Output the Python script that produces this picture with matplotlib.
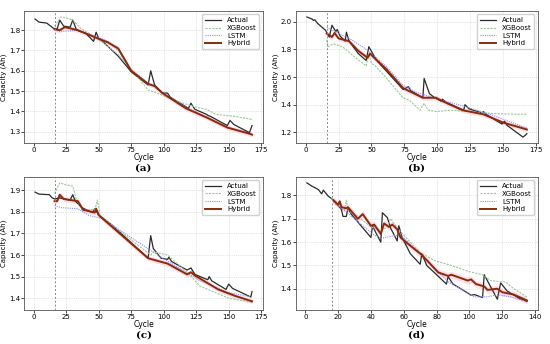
import matplotlib.pyplot as plt

# ---- data (vertex points, cycle / capacity in Ah) ----
# panel (a)
a_act_x = [1, 4, 10, 15, 18, 20, 23, 28, 30, 33, 40, 46, 48, 50, 53, 65, 75, 88, 90, 93, 99, 103, 105, 119, 121, 124, 133, 134, 136, 149, 151, 154, 166, 168]
a_act_y = [1.855, 1.84, 1.835, 1.81, 1.805, 1.85, 1.82, 1.815, 1.85, 1.80, 1.785, 1.745, 1.79, 1.76, 1.745, 1.672, 1.595, 1.53, 1.60, 1.53, 1.49, 1.49, 1.47, 1.415, 1.44, 1.41, 1.385, 1.38, 1.375, 1.33, 1.355, 1.335, 1.295, 1.33]
a_xgb_x = [16, 21, 25, 30, 36, 50, 65, 78, 88, 95, 110, 125, 133, 140, 155, 168]
a_xgb_y = [1.82, 1.865, 1.86, 1.85, 1.81, 1.755, 1.68, 1.585, 1.505, 1.49, 1.45, 1.42, 1.41, 1.385, 1.375, 1.36]
a_lstm_x = [16, 20, 25, 34, 49, 57, 65, 75, 88, 95, 117, 133, 149, 168]
a_lstm_y = [1.80, 1.795, 1.795, 1.80, 1.765, 1.745, 1.70, 1.605, 1.54, 1.51, 1.42, 1.37, 1.32, 1.285]
a_hyb_x = [16, 20, 24, 34, 49, 57, 65, 75, 88, 93, 99, 117, 133, 149, 166, 168]
a_hyb_y = [1.805, 1.80, 1.815, 1.80, 1.76, 1.74, 1.71, 1.60, 1.535, 1.525, 1.49, 1.415, 1.37, 1.32, 1.29, 1.285]
a_band = 0.012

# panel (b)
b_act_x = [1, 5, 6, 7, 9, 15, 18, 20, 23, 24, 26, 30, 31, 33, 40, 46, 48, 51, 54, 74, 78, 80, 89, 90, 94, 98, 103, 104, 106, 120, 121, 124, 134, 135, 137, 149, 151, 153, 165, 167, 168]
b_act_y = [2.035, 2.02, 2.01, 2.015, 1.99, 1.94, 1.89, 1.975, 1.93, 1.945, 1.90, 1.86, 1.925, 1.86, 1.77, 1.72, 1.82, 1.77, 1.72, 1.51, 1.53, 1.50, 1.45, 1.59, 1.48, 1.45, 1.425, 1.44, 1.42, 1.36, 1.40, 1.37, 1.34, 1.35, 1.33, 1.26, 1.28, 1.25, 1.165, 1.18, 1.19]
b_xgb_x = [16, 17, 21, 28, 38, 46, 48, 50, 53, 63, 74, 79, 87, 90, 93, 99, 110, 130, 143, 168]
b_xgb_y = [1.87, 1.82, 1.84, 1.82, 1.74, 1.68, 1.77, 1.70, 1.68, 1.575, 1.45, 1.43, 1.36, 1.41, 1.36, 1.35, 1.36, 1.345, 1.335, 1.33]
b_lstm_x = [16, 25, 35, 46, 61, 74, 84, 100, 120, 140, 168]
b_lstm_y = [1.96, 1.915, 1.87, 1.80, 1.68, 1.54, 1.49, 1.44, 1.39, 1.33, 1.23]
b_hyb_x = [16, 20, 22, 25, 33, 40, 47, 49, 52, 61, 74, 89, 99, 104, 119, 135, 150, 168]
b_hyb_y = [1.915, 1.89, 1.92, 1.88, 1.86, 1.79, 1.74, 1.77, 1.74, 1.66, 1.52, 1.45, 1.45, 1.425, 1.36, 1.33, 1.27, 1.22]
b_band = 0.018

# panel (c)
c_act_x = [1, 4, 12, 14, 16, 20, 28, 30, 32, 37, 45, 47, 50, 60, 88, 90, 92, 98, 103, 104, 106, 118, 121, 124, 134, 135, 137, 148, 150, 153, 167, 168]
c_act_y = [1.892, 1.883, 1.88, 1.866, 1.86, 1.865, 1.855, 1.88, 1.85, 1.82, 1.797, 1.815, 1.785, 1.74, 1.585, 1.69, 1.63, 1.585, 1.58, 1.59, 1.57, 1.53, 1.54, 1.51, 1.485, 1.50, 1.48, 1.44, 1.465, 1.445, 1.405, 1.43]
c_xgb_x = [16, 20, 25, 30, 33, 37, 47, 49, 51, 60, 90, 92, 103, 118, 128, 150, 168]
c_xgb_y = [1.885, 1.935, 1.925, 1.92, 1.855, 1.81, 1.81, 1.855, 1.785, 1.74, 1.60, 1.615, 1.60, 1.52, 1.455, 1.40, 1.38]
c_lstm_x = [16, 21, 34, 42, 52, 60, 98, 128, 150, 168]
c_lstm_y = [1.83, 1.82, 1.815, 1.785, 1.77, 1.74, 1.59, 1.48, 1.425, 1.405]
c_hyb_x = [16, 18, 20, 23, 34, 38, 47, 48, 50, 88, 103, 118, 121, 124, 142, 155, 168]
c_hyb_y = [1.85, 1.85, 1.88, 1.86, 1.85, 1.81, 1.797, 1.815, 1.785, 1.585, 1.56, 1.51, 1.52, 1.505, 1.44, 1.41, 1.385]
c_band = 0.012

# panel (d)
d_act_x = [1, 4, 6, 8, 10, 11, 14, 18, 22, 23, 25, 26, 28, 36, 40, 41, 43, 46, 47, 50, 52, 56, 57, 59, 64, 70, 71, 74, 80, 86, 87, 90, 98, 101, 103, 108, 109, 117, 119, 123, 130, 135]
d_act_y = [1.854, 1.84, 1.833, 1.825, 1.807, 1.823, 1.797, 1.776, 1.74, 1.71, 1.71, 1.745, 1.72, 1.653, 1.62, 1.67, 1.64, 1.60, 1.726, 1.705, 1.66, 1.605, 1.67, 1.62, 1.55, 1.505, 1.55, 1.50, 1.46, 1.42, 1.452, 1.42, 1.386, 1.372, 1.375, 1.362, 1.46, 1.355, 1.425, 1.39, 1.36, 1.345]
d_xgb_x = [16, 20, 24, 25, 26, 30, 40, 46, 50, 52, 56, 60, 70, 79, 89, 99, 108, 113, 119, 122, 127, 135]
d_xgb_y = [1.79, 1.76, 1.74, 1.78, 1.735, 1.72, 1.665, 1.65, 1.665, 1.70, 1.66, 1.63, 1.555, 1.52, 1.50, 1.475, 1.46, 1.435, 1.43, 1.43, 1.40, 1.365]
d_lstm_x = [17, 25, 35, 42, 46, 52, 58, 70, 80, 87, 98, 103, 111, 117, 125, 135]
d_lstm_y = [1.77, 1.73, 1.67, 1.63, 1.615, 1.625, 1.63, 1.55, 1.48, 1.43, 1.386, 1.365, 1.365, 1.375, 1.365, 1.345]
d_hyb_x = [17, 20, 21, 22, 25, 26, 32, 35, 40, 42, 46, 48, 51, 53, 56, 58, 63, 71, 73, 77, 81, 87, 89, 99, 101, 104, 109, 111, 117, 120, 127, 135]
d_hyb_y = [1.78, 1.76, 1.775, 1.75, 1.745, 1.75, 1.70, 1.72, 1.67, 1.675, 1.635, 1.68, 1.665, 1.675, 1.655, 1.62, 1.59, 1.545, 1.53, 1.50, 1.47, 1.455, 1.46, 1.435, 1.44, 1.42, 1.41, 1.395, 1.40, 1.385, 1.375, 1.35]
d_band = 0.015

split_cycle = 16
panel_labels = ['(a)', '(b)', '(c)', '(d)']

panels = [
    (a_act_x, a_act_y, a_xgb_x, a_xgb_y, a_lstm_x, a_lstm_y, a_hyb_x, a_hyb_y, a_band),
    (b_act_x, b_act_y, b_xgb_x, b_xgb_y, b_lstm_x, b_lstm_y, b_hyb_x, b_hyb_y, b_band),
    (c_act_x, c_act_y, c_xgb_x, c_xgb_y, c_lstm_x, c_lstm_y, c_hyb_x, c_hyb_y, c_band),
    (d_act_x, d_act_y, d_xgb_x, d_xgb_y, d_lstm_x, d_lstm_y, d_hyb_x, d_hyb_y, d_band),
]

fig = plt.figure(figsize=(5.5, 3.44), dpi=100)

boxes = [
    [0.044, 0.584, 0.434, 0.384],
    [0.538, 0.584, 0.440, 0.384],
    [0.044, 0.099, 0.434, 0.387],
    [0.538, 0.099, 0.440, 0.387],
]
label_y = [0.511, 0.511, 0.025, 0.025]

for i, p in enumerate(panels):
    ax_x, ax_y, xg_x, xg_y, ls_x, ls_y, hy_x, hy_y, band = p
    ax = fig.add_axes(boxes[i])

    ax.fill_between(hy_x, [v - band for v in hy_y], [v + band for v in hy_y],
                    color='#ffb6cc', alpha=0.45, lw=0)
    ax.plot(ax_x, ax_y, color='#2b2b2b', lw=0.9, label='Actual')
    ax.plot(xg_x, xg_y, color='#9cc89c', lw=0.8, ls=(0, (2, 1)), label='XGBoost')
    ax.plot(ls_x, ls_y, color='#8a8af0', lw=0.8, ls=(0, (1, 1)), label='LSTM')
    ax.plot(hy_x, hy_y, color='#8b2a0a', lw=1.4, label='Hybrid')
    ax.axvline(split_cycle, color='#888888', lw=0.7, ls=(0, (2, 2)))

    ax.grid(True, ls=':', lw=0.5, color='#cccccc')
    ax.tick_params(labelsize=5, length=2, width=0.5, pad=1)
    for s in ax.spines.values():
        s.set_linewidth(0.6)
        s.set_color('#555555')
    ax.set_xlabel('Cycle', fontsize=5.5, labelpad=0)
    ax.set_ylabel('Capacity (Ah)', fontsize=5, labelpad=1)
    ax.legend(loc='upper right', fontsize=5, handlelength=2.4, borderpad=0.4,
              labelspacing=0.25, framealpha=0.9)

    bx = boxes[i]
    fig.text(bx[0] + bx[2] / 2, label_y[i], panel_labels[i], ha='center', va='center',
             fontsize=7.5, fontweight='bold', family='DejaVu Serif')

fig.savefig('out.png', dpi=100)
